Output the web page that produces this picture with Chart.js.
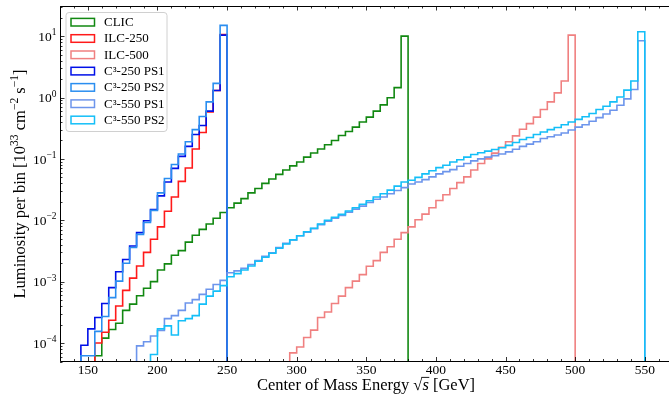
<!DOCTYPE html>
<html>
<head>
<meta charset="utf-8">
<script src="https://cdn.jsdelivr.net/npm/chart.js@4.4.0/dist/chart.umd.min.js"></script>
<style>
  html, body { margin: 0; padding: 0; background: #fff; }
  #wrap { width: 669px; height: 395px; }
</style>
</head>
<body>
<div id="wrap"><canvas id="lumiChart" width="669" height="395"></canvas></div>
<script>
// 5 GeV bins, first edge of each series and its luminosity per bin
const binWidth = 5;
const seriesNames = ["CLIC", "ILC-250", "ILC-500", "C³-250 PS1", "C³-250 PS2", "C³-550 PS1", "C³-550 PS2"];
const seriesColors = ["#118811", "#ff1a1a", "#f08080", "#0010e8", "#2a8ef0", "#6d95ec", "#14bff8"];
const firstEdges = [155, 155, 295, 145, 145, 185, 195];

const clicLumi = [6.2e-5, 1.2e-4, 1.66e-4, 2.1e-4, 3.4e-4, 4.3e-4, 5.9e-4, 7.8e-4, 1.0e-3,
  1.55e-3, 1.95e-3, 2.7e-3, 3.2e-3, 4.4e-3, 5.7e-3, 7.1e-3, 8.7e-3, 1.08e-2, 1.34e-2,
  1.6e-2, 1.9e-2, 2.25e-2, 2.8e-2, 3.3e-2, 4.0e-2, 4.7e-2, 5.6e-2, 6.6e-2, 7.7e-2,
  8.9e-2, 0.107, 0.125, 0.145, 0.17, 0.20, 0.24, 0.28, 0.33, 0.40, 0.48, 0.60, 0.76,
  0.99, 1.45, 10.0];
const ilc250Lumi = [1.0e-4, 1.5e-4, 2.35e-4, 4.0e-4, 7.2e-4, 1.14e-3, 1.8e-3, 3.0e-3,
  4.9e-3, 7.8e-3, 1.4e-2, 2.4e-2, 4.3e-2, 7.1e-2, 0.145, 0.27, 0.58, 1.3, 10.6];
const ilc500Lumi = [6.9e-5, 8.6e-5, 1.23e-4, 1.62e-4, 2.6e-4, 3.2e-4, 4.4e-4, 5.8e-4,
  8.0e-4, 1.02e-3, 1.3e-3, 1.78e-3, 2.2e-3, 3.0e-3, 3.7e-3, 4.9e-3, 6.3e-3, 7.8e-3,
  1.02e-2, 1.26e-2, 1.6e-2, 2.1e-2, 2.6e-2, 3.3e-2, 4.1e-2, 5.1e-2, 6.6e-2, 8.4e-2,
  0.10, 0.124, 0.155, 0.19, 0.237, 0.305, 0.375, 0.48, 0.64, 0.85, 1.19, 1.86, 10.4];
const c250ps1Lumi = [9.2e-5, 1.7e-4, 2.6e-4, 4.4e-4, 8.0e-4, 1.45e-3, 2.3e-3, 3.8e-3,
  6.3e-3, 9.8e-3, 1.5e-2, 2.5e-2, 4.2e-2, 7.0e-2, 0.11, 0.16, 0.25, 0.35, 0.60, 1.3, 10.4];
const c250ps2Lumi = [6.2e-5, 6.2e-5, 1.55e-4, 2.7e-4, 5.5e-4, 1.02e-3, 2.0e-3, 3.6e-3,
  5.9e-3, 9.2e-3, 1.45e-2, 2.8e-2, 4.8e-2, 8.1e-2, 0.12, 0.19, 0.30, 0.49, 0.85, 1.7, 15.0];
const c550ps1Lumi = [9.0e-5, 1.05e-4, 1.3e-4, 1.6e-4, 2.5e-4, 2.8e-4, 3.4e-4, 4.5e-4,
  5.1e-4, 6.2e-4, 7.5e-4, 9.0e-4, 1.05e-3, 1.4e-3, 1.5e-3, 1.65e-3, 1.9e-3, 2.2e-3,
  2.6e-3, 2.95e-3, 3.6e-3, 4.2e-3, 4.8e-3, 5.6e-3, 6.4e-3, 7.3e-3, 8.5e-3, 9.7e-3,
  1.08e-2, 1.2e-2, 1.35e-2, 1.52e-2, 1.7e-2, 1.95e-2, 2.2e-2, 2.4e-2, 2.7e-2, 3.05e-2,
  3.4e-2, 3.9e-2, 4.2e-2, 4.6e-2, 5.1e-2, 5.7e-2, 6.2e-2, 6.7e-2, 7.6e-2, 8.4e-2,
  9.3e-2, 0.100, 0.107, 0.113, 0.12, 0.13, 0.144, 0.16, 0.174, 0.19, 0.215, 0.23,
  0.245, 0.265, 0.295, 0.33, 0.36, 0.41, 0.47, 0.54, 0.62, 0.75, 0.95, 1.35, 8.4];
const c550ps2Lumi = [6.5e-5, 1.7e-4, 1.9e-4, 1.35e-4, 2.3e-4, 2.5e-4, 2.8e-4, 4.3e-4,
  5.8e-4, 7.0e-4, 8.6e-4, 1.2e-3, 1.35e-3, 1.55e-3, 1.8e-3, 2.15e-3, 2.5e-3, 2.9e-3,
  3.5e-3, 4.1e-3, 4.8e-3, 5.6e-3, 6.5e-3, 7.4e-3, 8.7e-3, 1.0e-2, 1.12e-2, 1.25e-2,
  1.42e-2, 1.6e-2, 1.82e-2, 2.08e-2, 2.4e-2, 2.7e-2, 3.1e-2, 3.6e-2, 4.2e-2, 4.5e-2,
  5.0e-2, 5.7e-2, 6.4e-2, 7.2e-2, 7.9e-2, 8.9e-2, 9.7e-2, 0.107, 0.118, 0.126, 0.134,
  0.142, 0.152, 0.166, 0.185, 0.207, 0.223, 0.25, 0.275, 0.30, 0.325, 0.36, 0.40,
  0.44, 0.485, 0.55, 0.64, 0.72, 0.85, 1.02, 1.32, 1.86, 11.8];

const seriesLumi = [clicLumi, ilc250Lumi, ilc500Lumi, c250ps1Lumi, c250ps2Lumi, c550ps1Lumi, c550ps2Lumi];

const xMajorTicks = [150, 200, 250, 300, 350, 400, 450, 500, 550];
const yTickExps = [-4, -3, -2, -1, 0, 1];

const floorLumi = 1e-7; // histogram edges drop below the axis
const serif = "'Liberation Serif', 'DejaVu Serif', serif";

// step outline of one histogram: each point carries the bin that starts at x,
// "before" stepping runs flat to the next edge and then rises/falls
function stepPoints(start, values) {
  const pts = [{ x: start, y: floorLumi }];
  values.forEach((v, i) => pts.push({ x: start + i * binWidth, y: v }));
  pts.push({ x: start + values.length * binWidth, y: floorLumi });
  return pts;
}

// text made of normal and superscript pieces
function runsWidth(ctx, runs, size) {
  let w = 0;
  runs.forEach(r => {
    ctx.font = (r.sup ? size * 0.7 : size) + "px " + serif;
    w += ctx.measureText(r.t).width;
  });
  return w;
}
function drawRuns(ctx, runs, x, y, size, align) {
  const total = runsWidth(ctx, runs, size);
  let cx = align === "center" ? x - total / 2 : align === "right" ? x - total : x;
  ctx.textAlign = "left";
  ctx.textBaseline = "alphabetic";
  runs.forEach(r => {
    ctx.font = (r.sup ? size * 0.7 : size) + "px " + serif;
    ctx.fillText(r.t, cx, r.sup ? y - size * 0.42 : y);
    cx += ctx.measureText(r.t).width;
  });
}

const axesPlugin = {
  id: "axesFrame",
  afterDatasetsDraw(chart) {
    const { ctx, chartArea: a, scales } = chart;
    const xs = scales.x, ys = scales.y;
    ctx.save();
    ctx.strokeStyle = "#000";
    ctx.fillStyle = "#000";

    // spines (right side falls outside the canvas)
    ctx.lineWidth = 1;
    ctx.beginPath();
    ctx.moveTo(a.right + 2, a.top + 0.5);
    ctx.lineTo(a.left + 0.5, a.top + 0.5);
    ctx.lineTo(a.left + 0.5, a.bottom);
    ctx.lineTo(a.right + 2, a.bottom);
    ctx.stroke();

    // inward ticks on x, top and bottom
    ctx.lineWidth = 0.8;
    ctx.beginPath();
    for (let v = 130; v <= 570; v += 10) {
      const px = Math.round(xs.getPixelForValue(v)) + 0.5;
      const len = v % 50 === 0 ? 4.5 : 2.5;
      ctx.moveTo(px, a.bottom); ctx.lineTo(px, a.bottom - len);
      ctx.moveTo(px, a.top); ctx.lineTo(px, a.top + len);
    }
    // inward ticks on y, decades and 2..9 minors
    for (let e = -5; e <= 1; e++) {
      for (let m = 1; m <= 9; m++) {
        const v = m * Math.pow(10, e);
        if (v < ys.min || v > ys.max) continue;
        const py = Math.round(ys.getPixelForValue(v)) + 0.5;
        const len = m === 1 ? 4.5 : 2.5;
        ctx.moveTo(a.left, py); ctx.lineTo(a.left + len, py);
      }
    }
    ctx.stroke();

    // x tick labels
    ctx.font = "13.5px " + serif;
    ctx.textAlign = "center";
    ctx.textBaseline = "alphabetic";
    xMajorTicks.forEach(v => ctx.fillText(String(v), xs.getPixelForValue(v), 374));

    // y tick labels as powers of ten
    yTickExps.forEach(e => {
      const py = ys.getPixelForValue(Math.pow(10, e));
      const exp = e < 0 ? "\u2212" + (-e) : String(e);
      drawRuns(ctx, [{ t: "10" }, { t: exp, sup: true }], a.left - 3.5, py + 4.7, 13.5, "right");
    });

    // x axis title with sqrt(s)
    const tSize = 16.5;
    const part1 = "Center of Mass Energy ", part3 = " [GeV]";
    ctx.font = tSize + "px " + serif;
    const w1 = ctx.measureText(part1).width;
    const wr = ctx.measureText("\u221A").width;
    const w3 = ctx.measureText(part3).width;
    ctx.font = "italic " + tSize + "px " + serif;
    const ws = ctx.measureText("s").width;
    let tx = 366 - (w1 + wr + ws + w3) / 2;
    const ty = 390;
    ctx.textAlign = "left";
    ctx.font = tSize + "px " + serif;
    ctx.fillText(part1, tx, ty); tx += w1;
    ctx.fillText("\u221A", tx, ty); tx += wr;
    ctx.font = "italic " + tSize + "px " + serif;
    ctx.fillText("s", tx, ty);
    ctx.lineWidth = 0.9;
    ctx.beginPath();
    ctx.moveTo(tx - 1, ty - 12.6); ctx.lineTo(tx + ws + 0.5, ty - 12.6);
    ctx.stroke();
    tx += ws;
    ctx.font = tSize + "px " + serif;
    ctx.fillText(part3, tx, ty);

    // y axis title, rotated
    ctx.save();
    ctx.translate(25, 184);
    ctx.rotate(-Math.PI / 2);
    drawRuns(ctx, [
      { t: "Luminosity per bin [10" }, { t: "33", sup: true },
      { t: " cm" }, { t: "\u22122", sup: true },
      { t: " s" }, { t: "\u22121", sup: true }, { t: "]" }
    ], 0, 0, tSize, "center");
    ctx.restore();

    // legend box
    const lx = 66, ly = 12.5, lw = 101, lh = 119, r = 3;
    ctx.beginPath();
    ctx.moveTo(lx + r, ly);
    ctx.arcTo(lx + lw, ly, lx + lw, ly + lh, r);
    ctx.arcTo(lx + lw, ly + lh, lx, ly + lh, r);
    ctx.arcTo(lx, ly + lh, lx, ly, r);
    ctx.arcTo(lx, ly, lx + lw, ly, r);
    ctx.closePath();
    ctx.fillStyle = "rgba(255,255,255,0.8)";
    ctx.fill();
    ctx.strokeStyle = "#d0d0d0";
    ctx.lineWidth = 1;
    ctx.stroke();

    chart.data.datasets.forEach((ds, i) => {
      const cy = 22.2 + i * 16.3;
      ctx.strokeStyle = ds.borderColor;
      ctx.lineWidth = 1.5;
      ctx.strokeRect(71, cy - 3.8, 23.5, 7.6);
      ctx.fillStyle = "#000";
      ctx.font = "13px " + serif;
      ctx.textAlign = "left";
      ctx.textBaseline = "middle";
      ctx.fillText(ds.label, 104, cy + 0.5);
    });

    ctx.restore();
  }
};

const datasets = seriesNames.map((name, i) => ({
  label: name,
  data: stepPoints(firstEdges[i], seriesLumi[i]),
  borderColor: seriesColors[i],
  borderWidth: 1.6,
  stepped: "before",
  fill: false,
  pointRadius: 0,
  clip: 0,
  order: seriesNames.length - i, // later series on top
}));

new Chart(document.getElementById("lumiChart"), {
  type: "line",
  data: { datasets },
  options: {
    responsive: false,
    animation: false,
    layout: { padding: { left: 60, top: 6, right: 0, bottom: 33.5 } },
    scales: {
      x: { type: "linear", min: 130, max: 567.4, display: false },
      y: { type: "logarithmic", min: 5e-5, max: 31, display: false },
    },
    plugins: {
      legend: { display: false },
      tooltip: { enabled: false },
    },
  },
  plugins: [axesPlugin],
});
</script>
</body>
</html>
